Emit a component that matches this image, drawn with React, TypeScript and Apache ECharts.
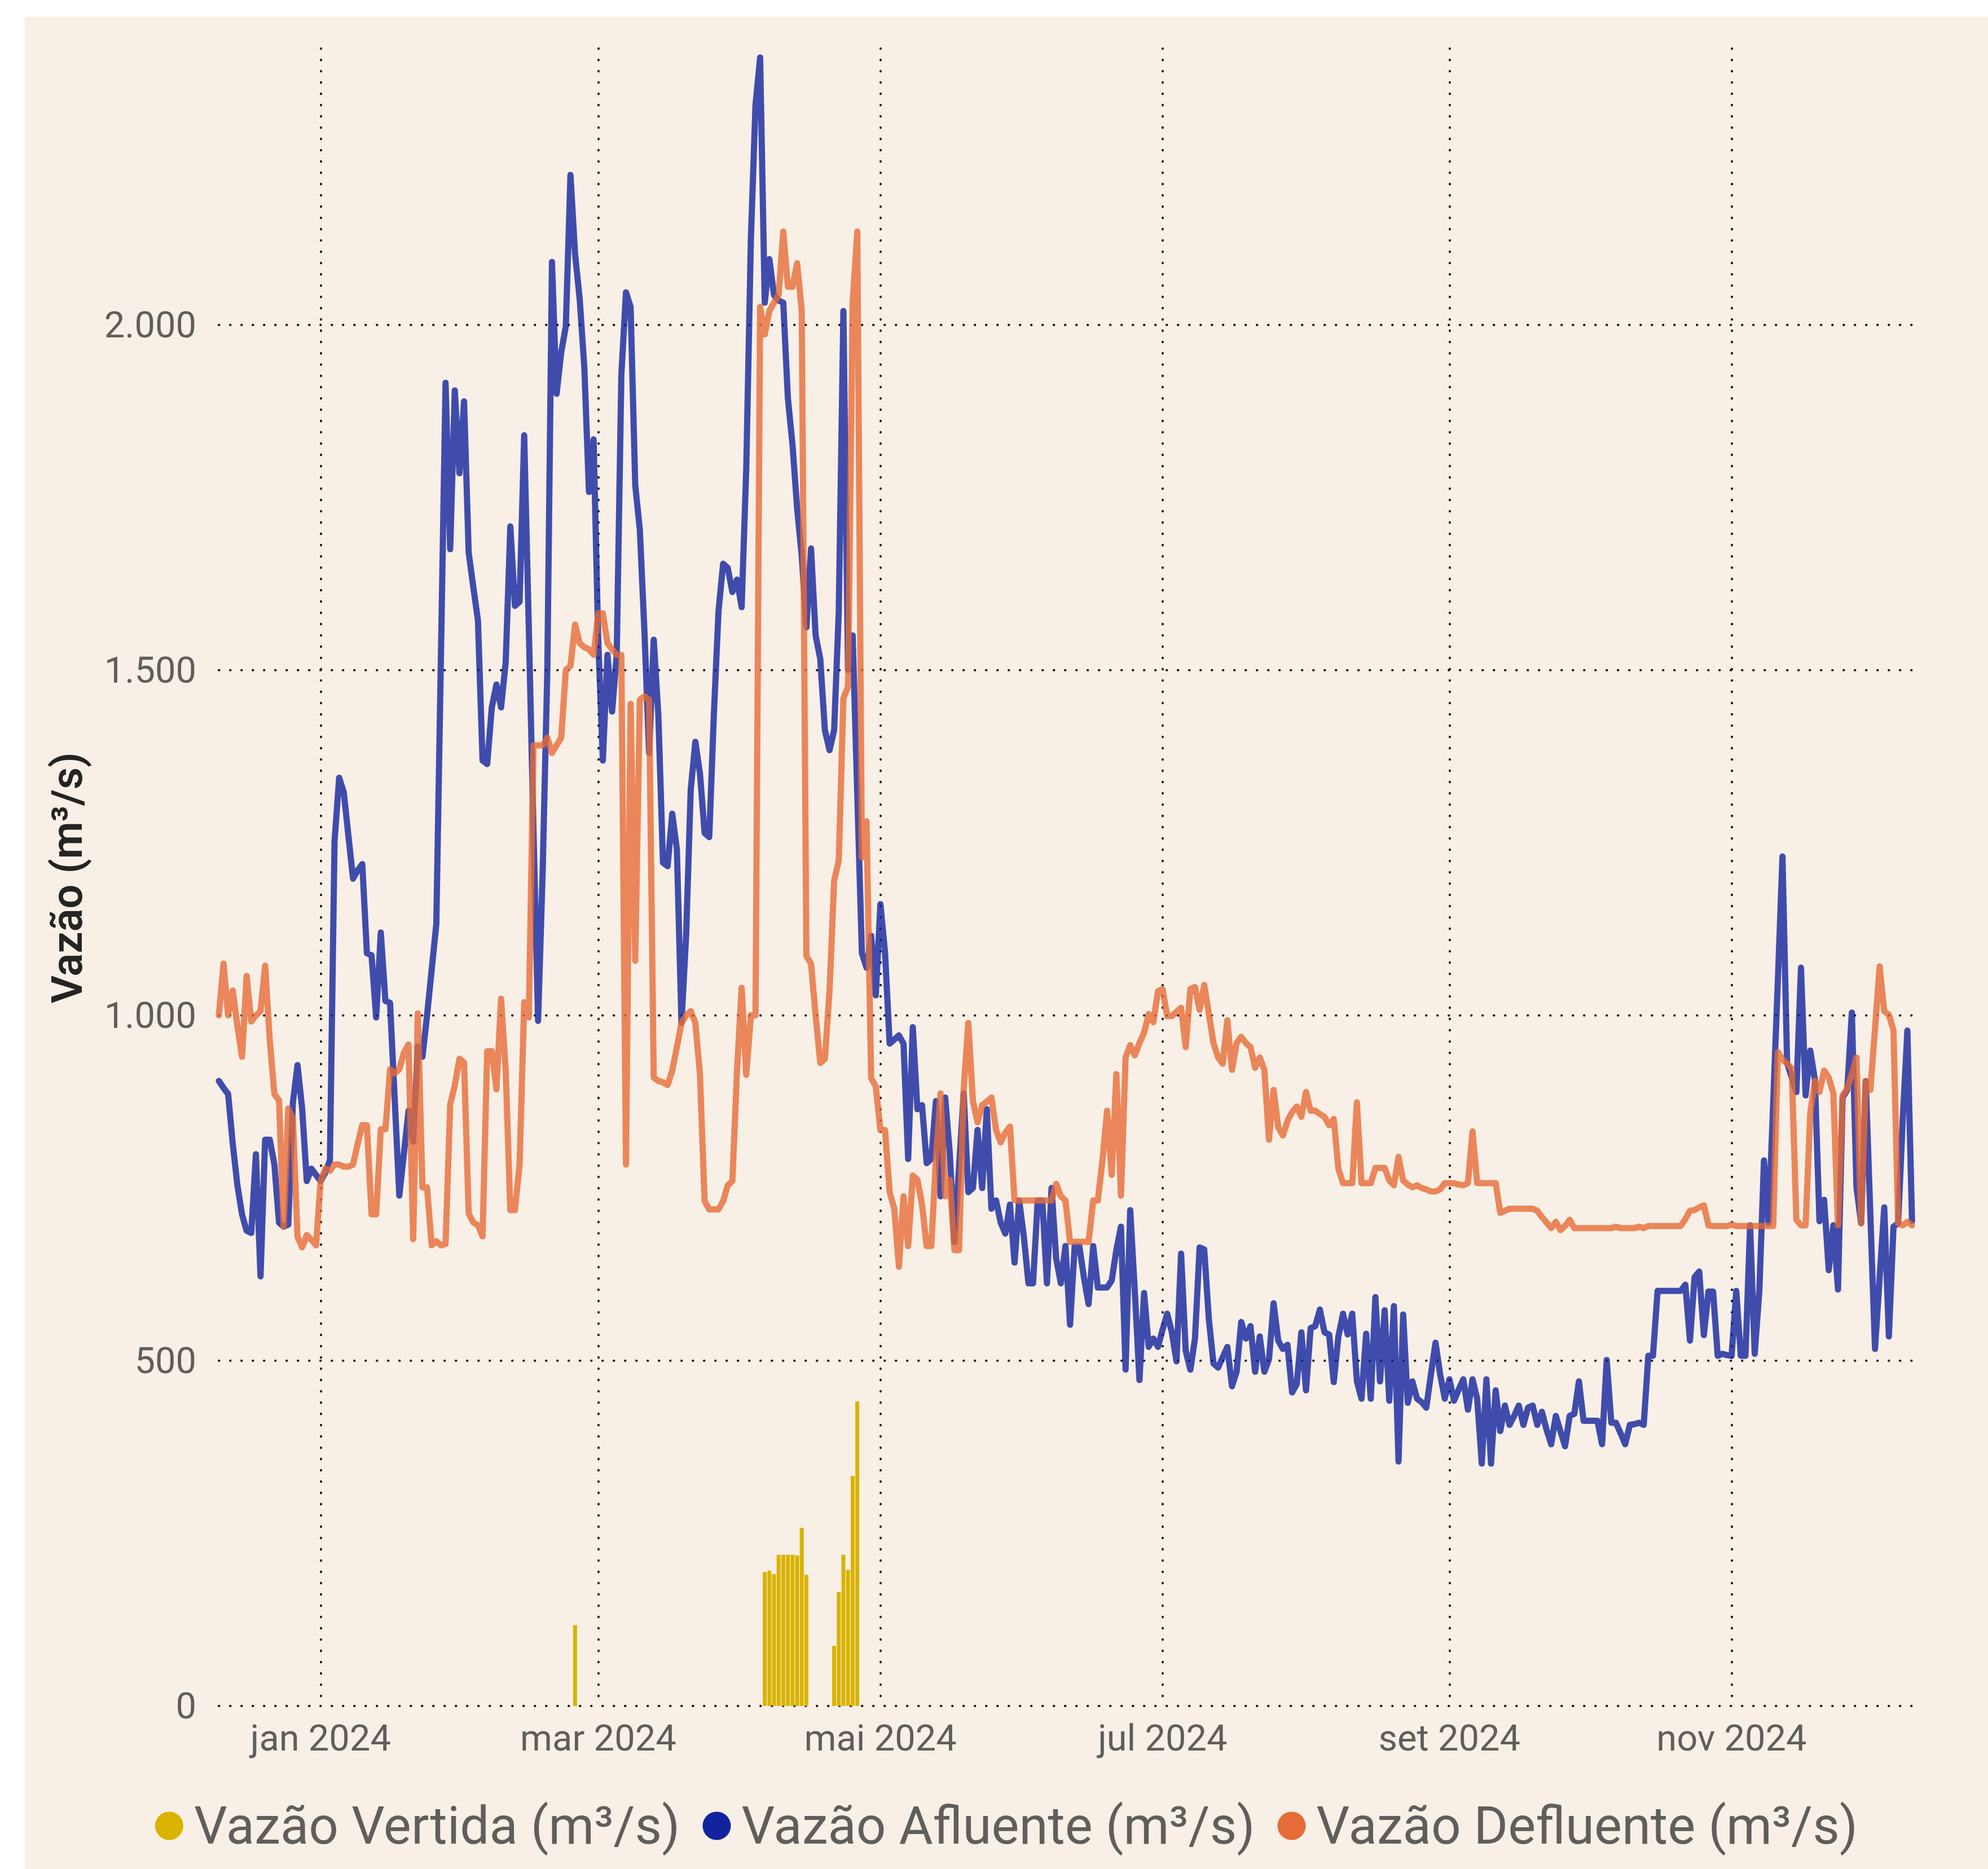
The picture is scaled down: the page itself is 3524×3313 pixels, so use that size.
import React, { useEffect, useRef } from 'react';
import * as echarts from 'echarts';

// ---- data (daily, starting 2023-12-10) ----
const START_DATE = '2023-12-10';
const END_DATE = '2024-12-10';

const afluente = [
  905, 895, 886, 814, 754, 712, 688, 685, 799, 622,
  820, 820, 784, 700, 694, 697, 874, 928, 865, 760,
  778, 769, 760, 772, 790, 1252, 1344, 1323, 1260, 1198,
  1210, 1219, 1090, 1087, 997, 1120, 1021, 1018, 880, 739,
  800, 862, 817, 955, 940, 1000, 1066, 1132, 1520, 1916,
  1675, 1905, 1785, 1889, 1670, 1620, 1572, 1369, 1364, 1446,
  1479, 1446, 1511, 1708, 1593, 1599, 1840, 1560, 1270, 992,
  1210, 1500, 2091, 1900, 1960, 1998, 2217, 2102, 2037, 1938,
  1758, 1834, 1544, 1369, 1522, 1440, 1522, 1927, 2047, 2026,
  1768, 1703, 1555, 1380, 1544, 1435, 1221, 1216, 1292, 1241,
  989, 1115, 1327, 1396, 1350, 1264, 1258, 1436, 1585, 1654,
  1648, 1613, 1631, 1591, 1791, 2124, 2318, 2387, 2032, 2095,
  2043, 2035, 2032, 1894, 1826, 1734, 1665, 1562, 1676, 1550,
  1516, 1413, 1384, 1413, 1585, 2020, 1500, 1550, 1321, 1090,
  1069, 1115, 1029, 1161, 1091, 959, 965, 971, 959, 792,
  983, 864, 870, 786, 792, 876, 738, 881, 800, 672,
  780, 887, 744, 750, 834, 750, 864, 720, 732, 700,
  684, 726, 642, 732, 680, 612, 612, 732, 732, 612,
  750, 648, 612, 666, 552, 666, 666, 620, 582, 666,
  606, 606, 606, 616, 660, 694, 487, 718, 600, 472,
  598, 520, 532, 520, 545, 568, 541, 499, 655, 514,
  487, 532, 664, 661, 560, 496, 490, 505, 520, 463,
  484, 556, 532, 550, 484, 535, 484, 502, 583, 529,
  517, 523, 454, 466, 541, 457, 547, 550, 574, 541,
  538, 469, 535, 568, 538, 568, 470, 445, 539, 445,
  592, 470, 573, 442, 579, 354, 567, 439, 470, 445,
  440, 432, 480, 526, 480, 445, 473, 442, 458, 473,
  429, 473, 445, 351, 473, 351, 457, 398, 435, 407,
  420, 435, 407, 432, 435, 407, 426, 400, 379, 420,
  398, 376, 420, 423, 470, 413, 413, 413, 413, 379,
  501, 410, 410, 395, 379, 407, 408, 410, 407, 507,
  507, 601, 601, 601, 601, 601, 601, 610, 529, 621,
  629, 537, 600, 600, 507, 510, 508, 507, 601, 507,
  507, 696, 510, 601, 790, 699, 875, 1050, 1230, 931,
  910, 889, 1069, 884, 949, 907, 702, 733, 631, 696,
  603, 881, 892, 1004, 751, 699, 905, 710, 517, 620,
  722, 535, 694, 699, 850, 978, 702,
];

const defluente = [
  1000, 1075, 1000, 1036, 985, 940, 1057, 991, 1000, 1006,
  1072, 964, 886, 877, 694, 865, 850, 679, 664, 682,
  675, 667, 760, 778, 775, 784, 784, 781, 781, 784,
  814, 841, 841, 712, 712, 835, 835, 922, 916, 922,
  946, 958, 676, 1003, 751, 751, 667, 673, 667, 669,
  871, 899, 937, 932, 713, 700, 696, 680, 948, 948,
  893, 1024, 920, 718, 718, 784, 1019, 997, 1391, 1391,
  1391, 1402, 1380, 1391, 1402, 1500, 1506, 1566, 1539, 1533,
  1530, 1522, 1582, 1582, 1539, 1530, 1522, 1522, 784, 1451,
  1079, 1457, 1462, 1457, 910, 905, 903, 899, 920, 954,
  989, 1000, 1006, 989, 914, 731, 719, 719, 719, 731,
  754, 760, 920, 1040, 914, 1000, 1000, 2026, 1986, 2020,
  2032, 2043, 2135, 2055, 2055, 2089, 2020, 1086, 1075, 1000,
  931, 937, 1035, 1195, 1224, 1459, 1476, 2032, 2135, 1229,
  1281, 909, 897, 834, 834, 744, 720, 636, 738, 666,
  768, 762, 726, 666, 666, 792, 887, 738, 762, 660,
  660, 893, 989, 876, 845, 870, 875, 881, 834, 816,
  830, 839, 732, 732, 732, 732, 732, 732, 732, 732,
  732, 756, 738, 732, 672, 672, 672, 672, 672, 732,
  732, 790, 862, 769, 915, 739, 939, 957, 942, 960,
  975, 1002, 990, 1035, 1038, 999, 999, 1005, 1011, 954,
  1038, 1041, 1008, 1044, 1002, 960, 939, 930, 993, 921,
  960, 969, 960, 954, 924, 939, 921, 820, 892, 838,
  826, 847, 860, 868, 853, 889, 862, 862, 857, 853,
  841, 850, 778, 757, 757, 757, 874, 757, 757, 757,
  779, 779, 779, 761, 754, 795, 761, 755, 751, 754,
  750, 748, 745, 745, 748, 757, 757, 757, 755, 754,
  757, 832, 757, 757, 757, 757, 757, 714, 717, 720,
  720, 720, 720, 720, 720, 717, 708, 700, 692, 701,
  689, 695, 704, 692, 692, 692, 692, 692, 692, 692,
  692, 692, 694, 692, 692, 692, 692, 694, 692, 695,
  695, 695, 695, 695, 695, 695, 695, 705, 717, 718,
  722, 725, 696, 695, 695, 695, 695, 697, 695, 695,
  695, 695, 695, 695, 695, 695, 695, 947, 936, 930,
  923, 704, 696, 696, 858, 905, 889, 920, 910, 887,
  696, 884, 894, 915, 939, 699, 905, 892, 980, 1071,
  1006, 1001, 978, 699, 696, 701, 696,
];

const vertidaDates = [
  '2024-02-25',
  '2024-04-06', '2024-04-07', '2024-04-08', '2024-04-09', '2024-04-10',
  '2024-04-11', '2024-04-12', '2024-04-13', '2024-04-14', '2024-04-15',
  '2024-04-21', '2024-04-22', '2024-04-23', '2024-04-24', '2024-04-25', '2024-04-26',
];
const vertidaValues = [
  117,
  194, 196, 191, 219, 219, 219, 219, 218, 258, 190,
  87, 165, 219, 197, 333, 441,
];

const monthTicks = ['2024-01-01', '2024-03-01', '2024-05-01', '2024-07-01', '2024-09-01', '2024-11-01'];
const monthLabels = ['jan 2024', 'mar 2024', 'mai 2024', 'jul 2024', 'set 2024', 'nov 2024'];

const seriesNames = ['Vazão Vertida (m³/s)', 'Vazão Afluente (m³/s)', 'Vazão Defluente (m³/s)'];
const yAxisTitle = 'Vazão (m³/s)';

// ---- helpers ----
const DAY = 86400000;
function ts(s: string): number {
  const [y, m, d] = s.split('-').map(Number);
  return Date.UTC(y, m - 1, d);
}
function fmtThousands(v: number): string {
  if (v < 1000) return String(v);
  const th = Math.floor(v / 1000);
  const rest = String(v % 1000).padStart(3, '0');
  return `${th}.${rest}`;
}

const FONT = 'Roboto, "Noto Sans", "DejaVu Sans", sans-serif';
const dotted = { color: '#111111', width: 4, type: [0.5, 19.5] as any, cap: 'round' as any };

export default function App() {
  const ref = useRef<HTMLDivElement>(null);

  useEffect(() => {
    if (!ref.current) return;
    const chart = echarts.init(ref.current, undefined, { renderer: 'svg' });
    const startTs = ts(START_DATE);
    const afluenteData = afluente.map((v, i) => [startTs + i * DAY, v]);
    const defluenteData = defluente.map((v, i) => [startTs + i * DAY, v]);
    const vertidaData = vertidaDates.map((d, i) => [ts(d), vertidaValues[i]]);
    const tickTs = monthTicks.map(ts);

    chart.setOption({
      animation: false,
      backgroundColor: '#F8F0E6',
      textStyle: { fontFamily: FONT },
      grid: { left: 344, right: 133, top: 56, bottom: 289, containLabel: false },
      xAxis: {
        type: 'value',
        min: startTs,
        max: ts(END_DATE) + 5 * 3600000,
        axisLine: { show: false },
        axisTick: { show: false, customValues: tickTs },
        axisLabel: {
          customValues: tickTs,
          formatter: (v: number) => {
            const i = tickTs.indexOf(v);
            return i >= 0 ? monthLabels[i] : '';
          },
          fontSize: 65,
          color: '#605E5C',
          margin: 24,
          fontFamily: FONT,
        },
        splitLine: { show: true, lineStyle: dotted },
      },
      yAxis: {
        type: 'value',
        min: 0,
        max: 2400,
        interval: 500,
        axisLine: { show: false },
        axisTick: { show: false },
        axisLabel: {
          showMaxLabel: false,
          formatter: (v: number) => (v === 2400 ? '' : fmtThousands(v)),
          fontSize: 65,
          color: '#605E5C',
          margin: 40,
          fontFamily: FONT,
        },
        splitLine: { show: true, showMaxLine: false, lineStyle: dotted },
      },
      legend: {
        left: 'center',
        top: 3160,
        icon: 'circle',
        itemWidth: 50,
        itemHeight: 50,
        itemGap: 40,
        padding: 0,
        textStyle: { fontSize: 92.5, color: '#605E5C', fontFamily: FONT, padding: [0, 0, 0, 14] },
        data: seriesNames,
      },
      series: [
        {
          name: seriesNames[0],
          type: 'bar',
          data: vertidaData,
          barWidth: 7,
          color: '#D9B300',
          itemStyle: { color: '#D9B300' },
          z: 1,
        },
        {
          name: seriesNames[1],
          type: 'line',
          data: afluenteData,
          symbol: 'none',
          showSymbol: false,
          color: '#12239E',
          lineStyle: { width: 11, opacity: 0.8, join: 'round', cap: 'round' },
          z: 2,
        },
        {
          name: seriesNames[2],
          type: 'line',
          data: defluenteData,
          symbol: 'none',
          showSymbol: false,
          color: '#E66C37',
          lineStyle: { width: 11, opacity: 0.8, join: 'round', cap: 'round' },
          z: 3,
        },
      ],
      graphic: [
        {
          type: 'text',
          x: 75,
          y: 1526,
          rotation: Math.PI / 2,
          style: {
            text: yAxisTitle,
            fontSize: 76,
            fontWeight: 600,
            fontFamily: FONT,
            fill: '#252423',
            textAlign: 'center',
            textVerticalAlign: 'middle',
          },
        },
      ],
    });
    return () => chart.dispose();
  }, []);

  return (
    <div style={{ position: 'absolute', left: 0, top: 0, width: 3524, height: 3313, background: '#ffffff' }}>
      <div ref={ref} style={{ position: 'absolute', left: 44, top: 30, width: 3480, height: 3283 }} />
    </div>
  );
}
